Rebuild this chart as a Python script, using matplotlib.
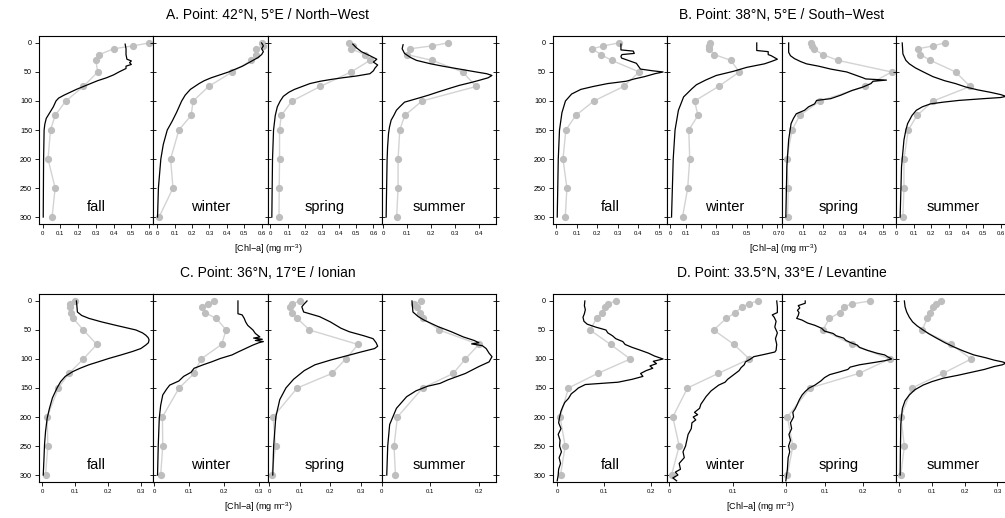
import matplotlib
matplotlib.use("Agg")
import matplotlib.pyplot as plt
import numpy as np

plt.rcParams['font.family'] = ['Liberation Sans', 'DejaVu Sans']
plt.rcParams['mathtext.fontset'] = 'custom'
plt.rcParams['mathtext.rm'] = 'Liberation Sans'
plt.rcParams['mathtext.default'] = 'regular'

seasons = ["fall", "winter", "spring", "summer"]
obs_depth = [0, 5, 10, 20, 30, 50, 75, 100, 125, 150, 200, 250, 300]

# A. North-West
A_fall_obs = [0.60, 0.51, 0.40, 0.32, 0.30, 0.31, 0.23, 0.13, 0.07, 0.044, 0.03, 0.07, 0.053]
A_fall_z = [2, 10, 20, 28, 31, 34, 37, 40, 44, 50, 55, 60, 65, 70, 75, 80, 85, 90, 95, 100, 110, 120, 130, 140, 150, 200, 250, 300]
A_fall_chl = [0.465, 0.47, 0.47, 0.475, 0.50, 0.49, 0.50, 0.47, 0.47, 0.43, 0.40, 0.36, 0.31, 0.27, 0.23, 0.19, 0.155,
              0.12, 0.09, 0.075, 0.06, 0.04, 0.02, 0.012, 0.008, 0.005, 0.004, 0.003]
A_winter_obs = [0.60, 0.61, 0.57, 0.57, 0.54, 0.43, 0.295, 0.206, 0.194, 0.124, 0.076, 0.09, 0.01]
A_winter_z = [0, 5, 10, 15, 20, 25, 30, 35, 40, 45, 50, 55, 60, 65, 70, 80, 90, 100, 110, 120, 135, 150, 175, 200, 250, 300]
A_winter_chl = [0.60, 0.61, 0.60, 0.61, 0.60, 0.58, 0.55, 0.52, 0.49, 0.45, 0.41, 0.36, 0.31, 0.27, 0.24, 0.19, 0.16,
                0.14, 0.125, 0.11, 0.085, 0.057, 0.034, 0.02, 0.006, 0.001]
A_spring_obs = [0.46, 0.48, 0.47, 0.55, 0.58, 0.47, 0.29, 0.126, 0.063, 0.053, 0.053, 0.051, 0.05]
A_spring_z = [2, 8, 15, 22, 28, 33, 38, 43, 48, 53, 57, 60, 63, 66, 70, 75, 80, 85, 92, 100, 110, 125, 150, 200, 250, 300]
A_spring_chl = [0.48, 0.50, 0.53, 0.58, 0.62, 0.60, 0.625, 0.61, 0.60, 0.58, 0.50, 0.42, 0.35, 0.29, 0.23, 0.185, 0.14,
                0.107, 0.075, 0.057, 0.04, 0.028, 0.018, 0.012, 0.01, 0.008]
A_summer_obs = [0.27, 0.206, 0.113, 0.10, 0.206, 0.333, 0.39, 0.163, 0.091, 0.07, 0.063, 0.063, 0.057]
A_summer_z = [3, 10, 18, 25, 30, 36, 40, 45, 50, 53, 56, 60, 64, 68, 73, 78, 84, 90, 95, 102, 110, 116, 125, 133, 145,
              156, 180, 202, 250, 300]
A_summer_chl = [0.084, 0.08, 0.09, 0.115, 0.14, 0.20, 0.25, 0.32, 0.39, 0.434, 0.456, 0.44, 0.406, 0.37, 0.32, 0.28,
                0.234, 0.19, 0.149, 0.09, 0.07, 0.056, 0.045, 0.034, 0.027, 0.023, 0.019, 0.017, 0.015, 0.013]

# B. South-West
B_fall_obs = [0.304, 0.23, 0.175, 0.218, 0.27, 0.404, 0.328, 0.183, 0.095, 0.047, 0.033, 0.052, 0.044]
B_fall_z = [2, 12, 14, 18, 20, 23, 26, 30, 35, 40, 45, 48, 50, 53, 58, 62, 66, 70, 75, 80, 88, 100, 120, 150, 200, 300]
B_fall_chl = [0.315, 0.315, 0.375, 0.38, 0.32, 0.315, 0.318, 0.35, 0.39, 0.40, 0.41, 0.47, 0.52, 0.48, 0.43, 0.38,
              0.34, 0.25, 0.18, 0.12, 0.075, 0.045, 0.028, 0.016, 0.01, 0.005]
B_winter_obs = [0.259, 0.255, 0.255, 0.288, 0.396, 0.45, 0.315, 0.158, 0.18, 0.12, 0.126, 0.113, 0.079]
B_winter_z = [0, 13, 15, 20, 22, 25, 28, 32, 36, 42, 49, 56, 64, 72, 79, 93, 116, 150, 200, 300]
B_winter_chl = [0.565, 0.565, 0.64, 0.64, 0.66, 0.68, 0.70, 0.66, 0.615, 0.50, 0.41, 0.30, 0.23, 0.17, 0.14, 0.086,
                0.052, 0.03, 0.018, 0.007]
B_spring_obs = [0.143, 0.148, 0.155, 0.20, 0.276, 0.543, 0.41, 0.186, 0.086, 0.048, 0.021, 0.029, 0.026]
B_spring_z = [0, 16, 22, 27, 32, 36, 40, 45, 50, 55, 60, 62, 64, 66, 70, 76, 82, 90, 96, 99, 105, 110, 116, 122, 130,
              139, 167, 213, 300]
B_spring_chl = [0.031, 0.031, 0.04, 0.06, 0.09, 0.12, 0.18, 0.24, 0.32, 0.36, 0.40, 0.414, 0.517, 0.45, 0.44, 0.40,
                0.345, 0.29, 0.24, 0.17, 0.16, 0.13, 0.11, 0.069, 0.055, 0.043, 0.031, 0.022, 0.017]
B_summer_obs = [0.277, 0.212, 0.125, 0.139, 0.196, 0.341, 0.424, 0.212, 0.119, 0.069, 0.044, 0.044, 0.038]
B_summer_z = [0, 19, 30, 36, 43, 50, 58, 65, 70, 76, 81, 85, 89, 92, 94, 96, 99, 102, 105, 110, 116, 125, 139, 150,
              167, 213, 300]
B_summer_chl = [0.034, 0.038, 0.055, 0.075, 0.11, 0.156, 0.21, 0.277, 0.34, 0.40, 0.47, 0.54, 0.60, 0.63, 0.60, 0.50,
                0.36, 0.27, 0.196, 0.15, 0.115, 0.09, 0.065, 0.055, 0.044, 0.03, 0.022]

# C. Ionian
C_fall_obs = [0.10, 0.083, 0.083, 0.089, 0.094, 0.125, 0.166, 0.125, 0.081, 0.049, 0.015, 0.017, 0.01]
C_fall_z = [0, 19, 25, 30, 36, 42, 50, 55, 59, 63, 67, 72, 76, 82, 87, 93, 99, 105, 110, 116, 122, 130, 139, 150, 167,
            185, 202, 225, 247, 275, 300]
C_fall_chl = [0.104, 0.107, 0.12, 0.142, 0.18, 0.224, 0.285, 0.305, 0.315, 0.322, 0.325, 0.323, 0.315, 0.30, 0.275,
              0.24, 0.203, 0.17, 0.142, 0.115, 0.092, 0.07, 0.056, 0.045, 0.031, 0.022, 0.015, 0.01, 0.007, 0.005, 0.003]
C_winter_obs = [0.17, 0.154, 0.136, 0.144, 0.178, 0.206, 0.193, 0.134, 0.114, 0.071, 0.023, 0.024, 0.018]
C_winter_z = [0, 22, 24, 30, 36, 42, 50, 56, 62, 64, 66, 68, 70, 72, 76, 83, 88, 93, 99, 105, 110, 116, 123, 130, 138,
              145, 152, 162, 180, 202, 250, 300]
C_winter_chl = [0.24, 0.24, 0.252, 0.258, 0.262, 0.268, 0.283, 0.29, 0.303, 0.285, 0.31, 0.29, 0.313, 0.30, 0.283,
                0.258, 0.24, 0.223, 0.19, 0.164, 0.14, 0.114, 0.105, 0.084, 0.07, 0.044, 0.035, 0.024, 0.018, 0.014,
                0.011, 0.009]
C_spring_obs = [0.101, 0.075, 0.069, 0.075, 0.092, 0.132, 0.291, 0.251, 0.205, 0.092, 0.013, 0.021, 0.009]
C_spring_z = [0, 5, 10, 19, 27, 36, 47, 53, 60, 65, 72, 78, 82, 88, 95, 102, 110, 120, 135, 150, 170, 200, 250, 300]
C_spring_chl = [0.124, 0.115, 0.107, 0.113, 0.165, 0.20, 0.235, 0.262, 0.31, 0.34, 0.35, 0.355, 0.345, 0.30, 0.25,
                0.20, 0.15, 0.115, 0.08, 0.055, 0.035, 0.022, 0.015, 0.012]
C_summer_obs = [0.081, 0.067, 0.072, 0.078, 0.085, 0.118, 0.20, 0.172, 0.147, 0.084, 0.032, 0.025, 0.028]
C_summer_z = [0, 19, 27, 33, 44, 53, 62, 68, 72, 74, 77, 82, 90, 96, 105, 113, 125, 136, 142, 147, 155, 165, 185,
              213, 250, 300]
C_summer_chl = [0.062, 0.064, 0.075, 0.087, 0.115, 0.143, 0.168, 0.19, 0.20, 0.185, 0.207, 0.215, 0.221, 0.227,
                0.221, 0.20, 0.172, 0.136, 0.12, 0.094, 0.07, 0.051, 0.03, 0.016, 0.012, 0.01]

# D. Levantine
D_fall_obs = [0.125, 0.108, 0.101, 0.095, 0.084, 0.07, 0.114, 0.156, 0.086, 0.024, 0.006, 0.017, 0.007]
D_fall_z = [0, 8, 15, 22, 28, 35, 40, 45, 50, 55, 60, 65, 70, 75, 80, 85, 90, 95, 100, 104, 108, 112, 116, 120, 125,
            130, 135, 140, 144, 150, 155, 160, 168, 175, 182, 190, 200, 210, 220, 230, 240, 250, 260, 270, 280, 290,
            300, 310]
D_fall_chl = [0.059, 0.058, 0.060, 0.058, 0.055, 0.057, 0.064, 0.082, 0.104, 0.108, 0.118, 0.125, 0.140, 0.145,
              0.160, 0.178, 0.195, 0.208, 0.226, 0.205, 0.212, 0.198, 0.204, 0.190, 0.178, 0.183, 0.160, 0.130, 0.060,
              0.045, 0.038, 0.030, 0.024, 0.016, 0.012, 0.008, 0.005, 0.003, 0.008, 0.002, 0.006, 0.005, 0.009, 0.004,
              0.007, 0.003, 0.002, 0.0]
D_winter_obs = [0.139, 0.125, 0.115, 0.104, 0.09, 0.07, 0.102, 0.126, 0.077, 0.029, 0.006, 0.016, 0.004]
D_winter_z = [0, 10, 20, 24, 28, 35, 45, 55, 65, 75, 85, 88, 92, 96, 100, 105, 110, 115, 120, 125, 130, 135, 140, 145,
              150, 155, 160, 165, 170, 178, 185, 192, 196, 200, 205, 210, 220, 230, 240, 250, 260, 270, 280, 290, 295,
              300, 305, 310]
D_winter_chl = [0.169, 0.17, 0.17, 0.162, 0.165, 0.168, 0.166, 0.170, 0.167, 0.169, 0.168, 0.166, 0.150, 0.133, 0.128,
                0.120, 0.118, 0.113, 0.110, 0.104, 0.098, 0.092, 0.088, 0.078, 0.072, 0.066, 0.062, 0.058, 0.055, 0.050,
                0.048, 0.040, 0.045, 0.038, 0.042, 0.036, 0.035, 0.030, 0.028, 0.026, 0.022, 0.024, 0.016, 0.018, 0.010,
                0.014, 0.006, 0.012]
D_spring_obs = [0.218, 0.171, 0.149, 0.14, 0.112, 0.096, 0.171, 0.268, 0.188, 0.062, 0.004, 0.018, 0.004]
D_spring_z = [0, 4, 8, 12, 16, 20, 25, 30, 33, 38, 42, 47, 52, 56, 60, 64, 68, 72, 76, 80, 85, 90, 93, 96, 100, 103,
              106, 110, 114, 118, 122, 127, 132, 138, 145, 150, 156, 162, 170, 179, 186, 192, 200, 210, 220, 230, 240,
              250, 260, 270, 280, 290, 300, 310]
D_spring_chl = [0.05, 0.05, 0.032, 0.036, 0.030, 0.034, 0.032, 0.028, 0.042, 0.056, 0.075, 0.092, 0.10, 0.122, 0.13,
                0.149, 0.155, 0.168, 0.184, 0.19, 0.21, 0.235, 0.255, 0.262, 0.273, 0.255, 0.228, 0.19, 0.166, 0.16,
                0.14, 0.113, 0.10, 0.09, 0.075, 0.06, 0.05, 0.042, 0.035, 0.029, 0.024, 0.018, 0.02, 0.012, 0.015,
                0.008, 0.012, 0.007, 0.010, 0.006, 0.005, 0.004, 0.002, 0.0]
D_summer_obs = [0.127, 0.112, 0.102, 0.093, 0.086, 0.07, 0.159, 0.22, 0.133, 0.039, 0.005, 0.016, 0.005]
D_summer_z = [0, 10, 19, 28, 36, 43, 50, 57, 64, 72, 79, 86, 93, 98, 102, 105, 107, 110, 113, 118, 122, 128, 133, 139,
              145, 153, 162, 172, 185, 200, 213, 250, 300]
D_summer_chl = [0.016, 0.018, 0.023, 0.031, 0.041, 0.055, 0.073, 0.092, 0.114, 0.14, 0.166, 0.195, 0.228, 0.265, 0.29,
                0.315, 0.326, 0.315, 0.29, 0.26, 0.228, 0.18, 0.135, 0.10, 0.073, 0.048, 0.031, 0.018, 0.01, 0.007,
                0.005, 0.004, 0.003]

# title, left px, top px, x of x-label, observations, model profiles
groups = [
    ("A. Point: 42°N, 5°E / North−West", 39, 36, 268,
     [A_fall_obs, A_winter_obs, A_spring_obs, A_summer_obs],
     [(A_fall_z, A_fall_chl), (A_winter_z, A_winter_chl), (A_spring_z, A_spring_chl), (A_summer_z, A_summer_chl)]),
    ("B. Point: 38°N, 5°E / South−West", 553, 36, 783,
     [B_fall_obs, B_winter_obs, B_spring_obs, B_summer_obs],
     [(B_fall_z, B_fall_chl), (B_winter_z, B_winter_chl), (B_spring_z, B_spring_chl), (B_summer_z, B_summer_chl)]),
    ("C. Point: 36°N, 17°E / Ionian", 39, 294, 258,
     [C_fall_obs, C_winter_obs, C_spring_obs, C_summer_obs],
     [(C_fall_z, C_fall_chl), (C_winter_z, C_winter_chl), (C_spring_z, C_spring_chl), (C_summer_z, C_summer_chl)]),
    ("D. Point: 33.5°N, 33°E / Levantine", 553, 294, 760,
     [D_fall_obs, D_winter_obs, D_spring_obs, D_summer_obs],
     [(D_fall_z, D_fall_chl), (D_winter_z, D_winter_chl), (D_spring_z, D_spring_chl), (D_summer_z, D_summer_chl)]),
]

W, H = 1005, 518
pw, ph = 114.3, 188
fig = plt.figure(figsize=(W / 100, H / 100), dpi=100)

for title, x0, y0, xlab_x, obs_list, mod_list in groups:
    for i, season in enumerate(seasons):
        ax = fig.add_axes([(x0 + i * pw) / W, 1 - (y0 + ph) / H, pw / W, ph / H])
        obs = obs_list[i]
        z, chl = mod_list[i]
        ax.plot(obs, obs_depth, color='#d3d3d3', lw=1.0, marker='o', ms=4.2,
                mfc='#bebebe', mec='#bebebe', zorder=2)
        ax.plot(chl, z, color='black', lw=0.9, zorder=3)

        # R-style 4% padding around the data range
        lo = min(min(obs), min(chl))
        hi = max(max(obs), max(chl))
        pad = 0.04 * (hi - lo)
        ax.set_xlim(lo - pad, hi + pad)
        ax.set_ylim(312, -12)

        ticks = np.round(np.arange(0, hi + pad, 0.1), 1)
        ppu = pw / (hi - lo + 2 * pad)
        if 0.1 * ppu < 15.5:
            labels = ["%g" % t if (k == 0 or k % 2 == 1) else "" for k, t in enumerate(ticks)]
        else:
            labels = ["%g" % t for t in ticks]
        ax.set_xticks(ticks)
        ax.set_xticklabels(labels)
        ax.tick_params(axis='x', direction='out', length=3, width=0.6, labelsize=4.3, pad=2)

        ax.set_yticks(range(0, 301, 50))
        if i == 0:
            ax.tick_params(axis='y', direction='out', length=3, width=0.6, labelsize=5.2, pad=2)
        else:
            ax.tick_params(axis='y', direction='inout', length=5, width=0.6, labelleft=False)
        if i == 3:
            ax.tick_params(axis='y', right=True, direction='inout', length=5)

        for s in ax.spines.values():
            s.set_linewidth(0.8)

        ax.text(0.5, 0.092, season, transform=ax.transAxes, ha='center', va='center', fontsize=10.5)

    fig.text((x0 + 2 * pw) / W, 1 - (y0 - 21) / H, title, ha='center', va='center', fontsize=10)
    fig.text(xlab_x / W, 1 - (y0 + 213) / H, "[Chl−a] (mg m$^{-3}$)", ha='center', va='center', fontsize=6.5)

fig.savefig("out.png", dpi=100)
